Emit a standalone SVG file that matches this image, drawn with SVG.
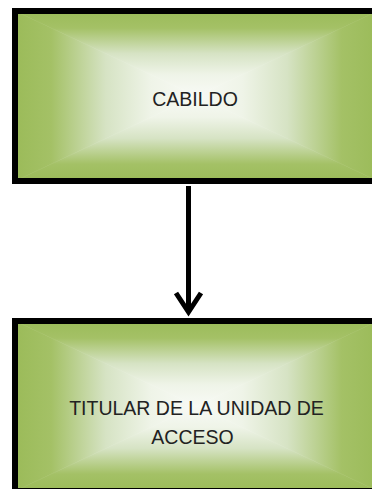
<svg xmlns="http://www.w3.org/2000/svg" width="372" height="489" viewBox="0 0 372 489">
  <style>
    .frame { fill: none; stroke: #000; stroke-width: 6; }
    .lbl { font-family: "Century Gothic", "Liberation Sans", Arial, sans-serif; font-size: 19.5px; fill: #222; text-anchor: middle; }
    .conn { fill: none; stroke: #000; stroke-width: 5; }
  </style>
  <defs>
    <linearGradient id="gL" x1="0" y1="0" x2="1" y2="0">
      <stop offset="0" stop-color="#9BBB59"/>
      <stop offset="0.2" stop-color="#A4C166"/>
      <stop offset="0.5" stop-color="#D6E3C4"/>
      <stop offset="0.75" stop-color="#EFF4E8"/>
      <stop offset="1" stop-color="#F8FAF5"/>
    </linearGradient>
    <linearGradient id="gR" href="#gL" x1="1" y1="0" x2="0" y2="0"/>
    <linearGradient id="gT" href="#gL" x1="0" y1="0" x2="0" y2="1"/>
    <linearGradient id="gB" href="#gL" x1="0" y1="1" x2="0" y2="0"/>
  </defs>

  <g id="node-cabildo">
    <polygon points="15,11 196.5,96 15,181" fill="url(#gL)" stroke="url(#gL)" stroke-width="0.6"/>
    <polygon points="378,11 196.5,96 378,181" fill="url(#gR)" stroke="url(#gR)" stroke-width="0.6"/>
    <polygon points="15,11 378,11 196.5,96" fill="url(#gT)" stroke="url(#gT)" stroke-width="0.6"/>
    <polygon points="15,181 378,181 196.5,96" fill="url(#gB)" stroke="url(#gB)" stroke-width="0.6"/>
    <rect class="frame" x="15" y="11" width="363" height="170"/>
    <text class="lbl" x="195" y="106">CABILDO</text>
  </g>

  <g id="node-titular">
    <polygon points="15,321 196.5,406 15,491" fill="url(#gL)" stroke="url(#gL)" stroke-width="0.6"/>
    <polygon points="378,321 196.5,406 378,491" fill="url(#gR)" stroke="url(#gR)" stroke-width="0.6"/>
    <polygon points="15,321 378,321 196.5,406" fill="url(#gT)" stroke="url(#gT)" stroke-width="0.6"/>
    <polygon points="15,491 378,491 196.5,406" fill="url(#gB)" stroke="url(#gB)" stroke-width="0.6"/>
    <rect class="frame" x="15" y="321" width="363" height="170"/>
    <text class="lbl" x="196.5" y="415">TITULAR DE LA UNIDAD DE</text>
    <text class="lbl" x="192.5" y="444">ACCESO</text>
  </g>

  <g id="connectors">
    <line class="conn" x1="188.5" y1="186" x2="188.5" y2="312"/>
    <polyline class="conn" points="176,293 188.5,312 201,293" stroke-linejoin="miter" stroke-miterlimit="10"/>
  </g>
</svg>
